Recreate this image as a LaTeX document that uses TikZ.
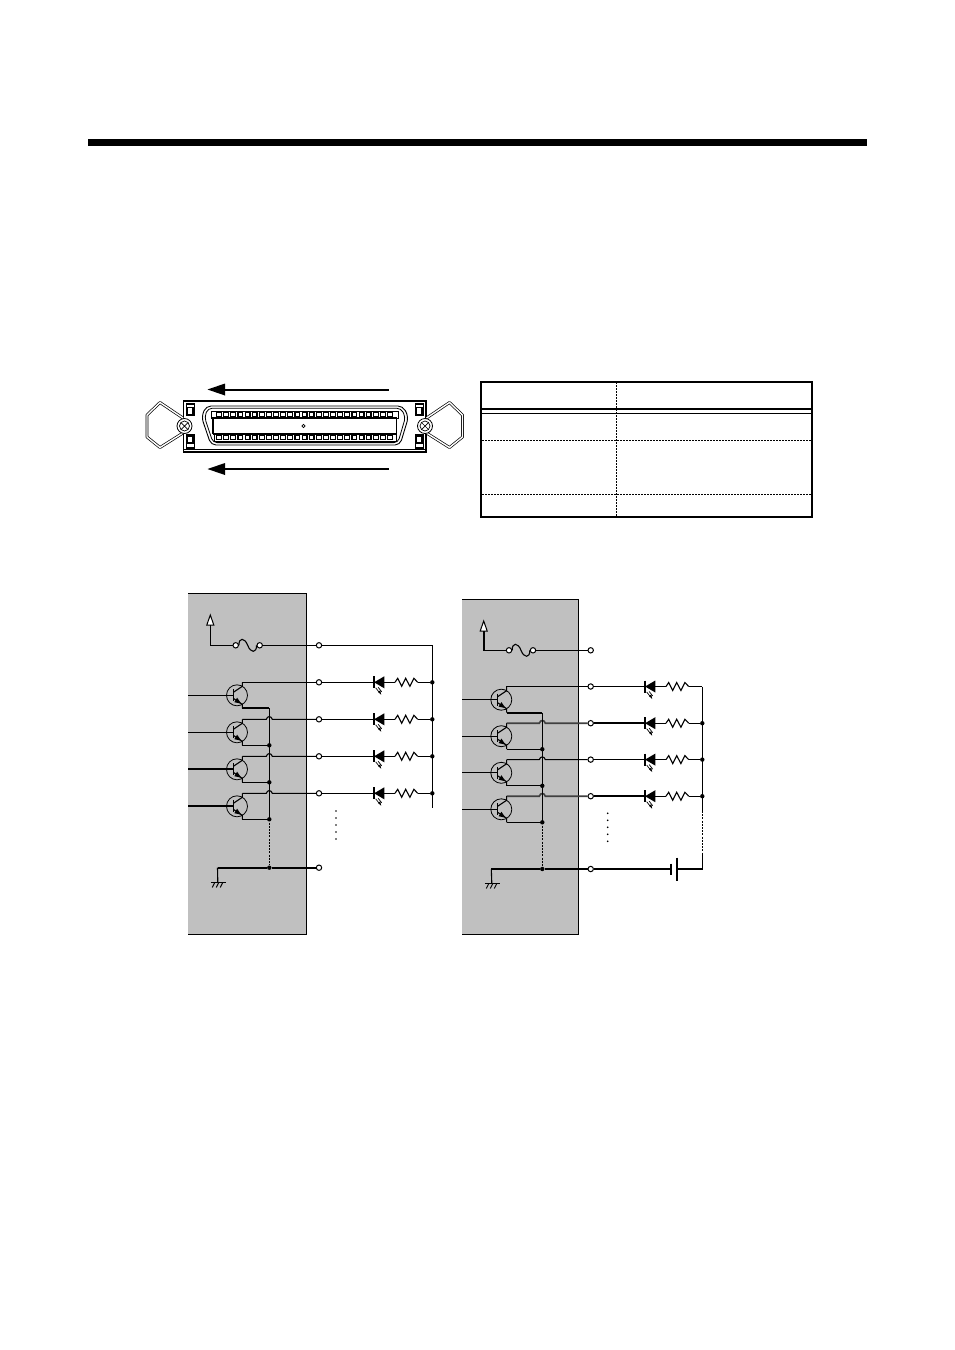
\documentclass[tikz,border=0pt]{standalone}
\tikzset{
  thin line/.style={line width=1.1pt},
  heavy line/.style={line width=2pt},
  termnode/.style={circle,draw=black,fill=white,line width=1pt,minimum size=5.4pt,inner sep=0pt},
  dotnode/.style={circle,fill=black,minimum size=4.4pt,inner sep=0pt},
  trcircle/.style={circle,draw=black,line width=0.8pt,minimum size=21pt,inner sep=0pt},
  dots line/.style={line width=1.1pt,dash pattern=on 2pt off 1.2pt},
  table dash/.style={line width=1pt,dash pattern=on 2pt off 1pt},
  bigarrow/.style={line width=2pt},
  pinbox/.style={line width=1.2pt,fill=white}
}
\definecolor{panel}{HTML}{C0C0C0}
% name, cx, cy, left edge, bus x, terminal node x, input style, emitter style
\newcommand{\stage}[8]{%
  \begin{scope}[shift={(#2,#3)}]
    \node[trcircle] (#1) at (0,0) {};
    \coordinate (#1B) at (-3.7,0);
    \coordinate (#1C) at (5.3,-13);
    \coordinate (#1E) at (5.3,13);
    \draw[line width=1.5pt] (-3.7,-6) -- (-3.7,6);
    \draw[thin line] (-3.7,-3) -- (5.3,-9) -- (#1C);
    \draw[thin line] (-3.7,3) -- (5.3,9) -- (#1E);
    \fill (4.2,8.4) -- (0.13,2.4) -- (-2.67,6.9) -- cycle;
  \end{scope}
  \coordinate (#1I) at (#4,#3);
  \draw[#7] (#1I) -- (#1B);
  \coordinate (#1X) at (#5,#3+13);
  \draw[#8] (#1E) -- (#1X);
}
% name, y, x of collector, bus x, terminal x, style
\newcommand{\hoprow}[6]{%
  \node[termnode] (#1) at (#5,#2) {};
  \coordinate (#1a) at (#3,#2);
  \coordinate (#1b) at (#4-3,#2);
  \coordinate (#1c) at (#4+3,#2);
  \draw[#6] (#1a) -- (#1b) .. controls (#4-2,#2-3.6) and (#4+2,#2-3.6) .. (#1c) -- (#1);
}
% name, bar x, y, start node, rail node, style
\newcommand{\ledrow}[6]{%
  \begin{scope}[shift={(#2,#3)}]
    \coordinate (#1k) at (0,0);
    \coordinate (#1a) at (10.6,0);
    \coordinate (#1r) at (21.3,0);
    \coordinate (#1s) at (44,0);
    \draw[line width=1.6pt] (0,-6) -- (0,6);
    \fill (0.4,0) -- (10.6,-6) -- (10.6,6) -- cycle;
    \draw[thin line] (#1r) -- ++(2.7,-4) -- ++(4,8) -- ++(4,-8) -- ++(4.2,8) -- ++(4,-8) -- (#1s);
    \draw[line width=0.7pt] (2,5.5) -- (5.5,10);
    \draw[line width=0.7pt] (4.5,5) -- (8,9.5);
    \fill (7.5,12.5) -- (4.3,9.6) -- (6.6,8) -- cycle;
  \end{scope}
  \draw[#6] (#4) -- (#1k);
  \draw[thin line] (#1a) -- (#1r);
  \draw[thin line] (#1s) -- (#5);
}
% name, x, arrow top y, junction y, fuse left x, style
\newcommand{\supply}[6]{%
  \coordinate (#1t) at (#2,#3+10);
  \coordinate (#1j) at (#2,#4);
  \node[termnode] (#1f) at (#5,#4) {};
  \node[termnode] (#1g) at (#5+24,#4) {};
  \draw[line width=1pt,fill=white,line join=miter] (#2,#3) -- (#2+3.5,#3+10) -- (#2-3.5,#3+10) -- cycle;
  \draw[#6] (#1t) -- (#1j) -- (#1f);
  \draw[thin line] (#1f.east) .. controls (#5+3,#4-8) and (#5+9,#4-8) .. (#5+12,#4)
    .. controls (#5+15,#4+8) and (#5+21,#4+8) .. (#1g.west);
}
% name, x, y
\newcommand{\groundsym}[3]{%
  \coordinate (#1) at (#2,#3);
  \draw[line width=1pt] (#2-7,#3) -- (#2+8,#3);
  \draw[line width=1pt] (#2-3,#3) -- (#2-5.5,#3+5) (#2+1,#3) -- (#2-1.5,#3+5) (#2+5,#3) -- (#2+2.5,#3+5);
}
\newcommand{\latch}{%
  \draw[line width=2.8pt,line join=round] (183,418) -- (160,402.5) -- (147,415) -- (147,437) -- (160,447.5) -- (183,433);
  \draw[line width=1.4pt,white,line join=round] (183,418) -- (160,402.5) -- (147,415) -- (147,437) -- (160,447.5) -- (183,433);
  \draw[line width=0.8pt,fill=white] (184.5,426) circle[radius=7.5];
  \draw[line width=0.7pt] (184.5,426) circle[radius=5];
  \draw[line width=0.7pt] (181,422.5) -- (188,429.5) (181,429.5) -- (188,422.5);
  \draw[line width=1pt,fill=white] (186,403) rectangle (194.5,415.5);
  \draw[line width=2pt] (186,403.5) -- (194.5,403.5);
  \draw[line width=1.2pt,fill=white] (187.5,407.5) rectangle (193,414.5);
  \draw[line width=1pt,fill=white] (186,434) rectangle (194.5,448);
  \draw[line width=2pt] (186,447.5) -- (194.5,447.5);
  \draw[line width=1.2pt,fill=white] (187.5,436) rectangle (193,443);
}
\begin{document}
\begin{tikzpicture}[x=1pt,y=-1pt]
\useasboundingbox (0,0) rectangle (954,1350);
\fill[white] (0,0) rectangle (954,1350);
% header bar
\fill[black] (88,139) rectangle (867,146);

% arrows above and below the connector
\coordinate (a1s) at (388.5,389.5);
\coordinate (a1e) at (224,389.5);
\coordinate (a2s) at (388.5,469);
\coordinate (a2e) at (224,469);
\draw[bigarrow] (a1s) -- (a1e);
\draw[bigarrow] (a2s) -- (a2e);
\fill (207.5,389.5) -- (225,383.5) -- (225,395.5) -- cycle;
\fill (207.5,469) -- (225,463) -- (225,475) -- cycle;

% connector
\draw[line width=1.6pt,fill=white] (183.5,401) rectangle (426,452);
\draw[line width=0.7pt] (183.5,449) -- (426,449);
\latch
\begin{scope}[shift={(609.5,0)},xscale=-1]
\latch
\end{scope}
\draw[line width=0.9pt,rounded corners=5pt] (206,406) -- (403,406) -- (408.5,417) -- (400,445) -- (211,445) -- (201.5,417) -- cycle;
\draw[line width=0.8pt,rounded corners=4pt] (208,408.3) -- (401,408.3) -- (405.5,417) -- (398,442.6) -- (213,442.6) -- (204.5,417) -- cycle;
\draw[line width=0.8pt] (211,411) rectangle (398,418);
\draw[line width=0.8pt] (214,433.5) rectangle (396,441);
\fill[black] (213,416.8) rectangle (397,418.8);
\fill[black] (213,432.8) rectangle (397,434.8);
\fill[black] (212.2,417) rectangle (213.6,434);
\fill[black] (396,417) rectangle (397.4,434);
\foreach \i in {0,...,24}{
  \draw[pinbox] ({216.6+7.125*\i},412) rectangle ({221.4+7.125*\i},416.4);
  \draw[pinbox] ({216.6+7.125*\i},435.4) rectangle ({221.4+7.125*\i},439.8);
}
\draw[line width=0.8pt] (303.5,426) circle[radius=1.6];

% table
\draw[line width=2pt] (481,381.7) rectangle (812.3,517);
\draw[line width=2pt] (481,408.7) -- (812.3,408.7);
\draw[line width=1pt] (481,413.5) -- (812.3,413.5);
\draw[table dash] (616,382) -- (616,517);
\draw[table dash] (482,440.3) -- (811,440.3);
\draw[table dash] (482,494.3) -- (811,494.3);

% panels
\fill[panel] (188,593.3) rectangle (306.6,934);
\draw[line width=1pt] (188,593.3) -- (306.6,593.3) -- (306.6,934) -- (188,934);
\fill[panel] (462,599.3) rectangle (578.3,934.3);
\draw[line width=1pt] (462,599.3) -- (578.3,599.3) -- (578.3,934.3) -- (462,934.3);

% ---------- left circuit
\supply{lv}{210.3}{615}{645.3}{235.7}{thin line}
\node[termnode] (ltv) at (319,645.3) {};
\coordinate (lrt) at (432.3,645.3);
\coordinate (lrb) at (432.3,808.3);
\draw[thin line] (lvg) -- (ltv);
\draw[thin line] (ltv) -- (lrt) -- (lrb);

\stage{lq1}{237}{695.3}{188}{269.3}{319}{thin line}{heavy line}
\stage{lq2}{237}{732.3}{188}{269.3}{319}{thin line}{thin line}
\stage{lq3}{237}{769.3}{188}{269.3}{319}{line width=1.7pt}{thin line}
\stage{lq4}{237}{806.3}{188}{269.3}{319}{line width=1.7pt}{thin line}

\node[termnode] (lr1) at (319,682.3) {};
\coordinate (lr1a) at (242.3,682.3);
\draw[thin line] (lq1C) -- (lr1a) -- (lr1);
\hoprow{lr2}{719.3}{242.3}{269.3}{319}{thin line}
\hoprow{lr3}{756.3}{242.3}{269.3}{319}{thin line}
\hoprow{lr4}{793.3}{242.3}{269.3}{319}{thin line}
\draw[thin line] (lq2C) -- (lr2a);
\draw[thin line] (lq3C) -- (lr3a);
\draw[thin line] (lq4C) -- (lr4a);

\node[termnode] (ltg) at (319,867.7) {};
\node[dotnode] (lbg) at (269.3,867.7) {};
\groundsym{lgs}{217.8}{882.5}
\coordinate (lgc) at (217.5,867.7);
\draw[thin line] (lq1X) -- (lq4X);
\draw[dots line] (lq4X) -- (lbg);
\draw[heavy line] (ltg) -- (lbg) -- (lgc);
\draw[thin line] (lgc) -- (lgs);
\node[dotnode] at (lq2X) (ld2) {};
\node[dotnode] at (lq3X) (ld3) {};
\node[dotnode] at (lq4X) (ld4) {};

\foreach \n/\y in {1/682.3,2/719.3,3/756.3,4/793.3}{
  \node[dotnode] (lrd\n) at (432.3,\y) {};
}
\ledrow{ll1}{373.7}{682.3}{lr1}{lrd1}{thin line}
\ledrow{ll2}{373.7}{719.3}{lr2}{lrd2}{thin line}
\ledrow{ll3}{373.7}{756.3}{lr3}{lrd3}{thin line}
\ledrow{ll4}{373.7}{793.3}{lr4}{lrd4}{thin line}
\foreach \y in {811,818,825,832,839}{
  \fill (336,\y) circle[radius=0.9];
}

% ---------- right circuit
\supply{rv}{483.7}{621}{650.3}{509}{line width=1.6pt}
\node[termnode] (rtv) at (590.7,650.3) {};
\draw[thin line] (rvg) -- (rtv);

\stage{rq1}{501.3}{699.7}{462}{542.3}{590.7}{thin line}{heavy line}
\stage{rq2}{501.3}{736.2}{462}{542.3}{590.7}{thin line}{thin line}
\stage{rq3}{501.3}{772.8}{462}{542.3}{590.7}{thin line}{thin line}
\stage{rq4}{501.3}{809.3}{462}{542.3}{590.7}{thin line}{thin line}

\node[termnode] (rr1) at (590.7,686.5) {};
\coordinate (rr1a) at (506.6,686.5);
\draw[thin line] (rq1C) -- (rr1a) -- (rr1);
\hoprow{rr2}{723.2}{506.6}{542.3}{590.7}{line width=1.6pt,black!75}
\hoprow{rr3}{759.6}{506.6}{542.3}{590.7}{thin line}
\hoprow{rr4}{796.2}{506.6}{542.3}{590.7}{line width=1.6pt,black!75}
\draw[thin line] (rq2C) -- (rr2a);
\draw[thin line] (rq3C) -- (rr3a);
\draw[thin line] (rq4C) -- (rr4a);

\node[termnode] (rtg) at (590.7,869) {};
\node[dotnode] (rbg) at (542.3,869) {};
\groundsym{rgs}{491.8}{883.5}
\coordinate (rgc) at (491.3,869);
\draw[thin line] (rq1X) -- (rq4X);
\draw[dots line] (rq4X) -- (rbg);
\draw[heavy line] (rtg) -- (rbg) -- (rgc);
\draw[thin line] (rgc) -- (rgs);
\node[dotnode] at (rq2X) (rd2) {};
\node[dotnode] at (rq3X) (rd3) {};
\node[dotnode] at (rq4X) (rd4) {};

\coordinate (rrt) at (702.3,686.5);
\foreach \n/\y in {2/723.2,3/759.6,4/796.2}{
  \node[dotnode] (rrd\n) at (702.3,\y) {};
}
\ledrow{rl1}{644.7}{686.5}{rr1}{rrt}{thin line}
\ledrow{rl2}{644.7}{723.2}{rr2}{rrd2}{heavy line}
\ledrow{rl3}{644.7}{759.6}{rr3}{rrd3}{thin line}
\ledrow{rl4}{644.7}{796.2}{rr4}{rrd4}{heavy line}
\coordinate (rrm) at (702.3,811);
\coordinate (rrn) at (702.3,855);
\coordinate (rrc) at (702.3,869);
\coordinate (bp) at (676.7,869);
\coordinate (bn) at (670.7,869);
\draw[thin line] (rrt) -- (rrm);
\draw[dots line] (rrm) -- (rrn);
\draw[line width=1.5pt,line join=miter] (rrn) -- (rrc) -- (bp);
\draw[heavy line] (rtg) -- (bn);
\draw[line width=2pt] (676.7,857.5) -- (676.7,880.5);
\draw[line width=2.4pt] (670.7,863.5) -- (670.7,874.5);
\foreach \y in {813.3,820.3,827.3,834.3,841.3}{
  \fill (607.7,\y) circle[radius=0.9];
}
\end{tikzpicture}
\end{document}
